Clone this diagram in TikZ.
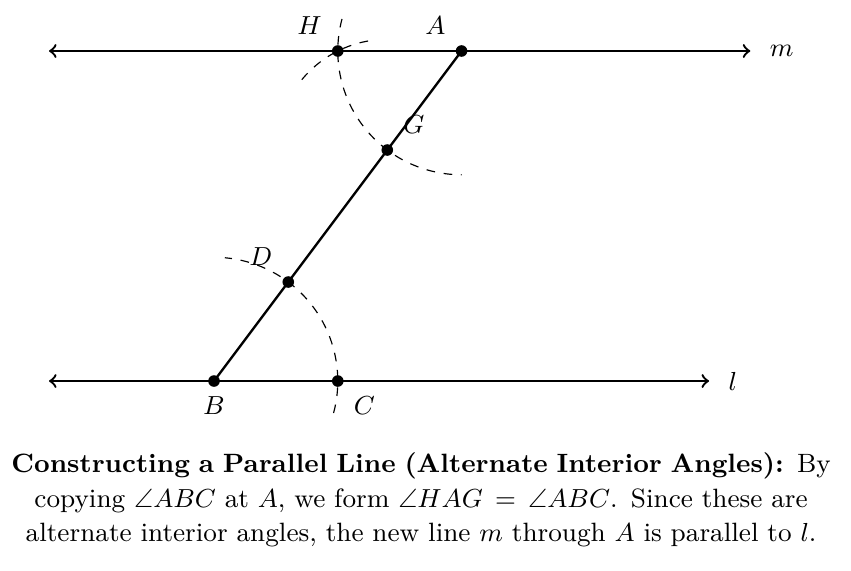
\documentclass[tikz,border=0pt]{standalone}
\usepackage{amssymb}
\begin{document}
\begin{tikzpicture}[
  font=\fontsize{9.14pt}{11.8pt}\selectfont,
  geoline/.style={thick,<->},
  seg/.style={thick},
  arcline/.style={dashed,thin},
  pt/.style={circle,fill,inner sep=0pt,minimum size=4pt},
  lbl/.style={inner sep=3.33pt}
]
\useasboundingbox (-2.594,-2.291) rectangle (7.72,4.618);
\coordinate (Bp) at (0,0);
\coordinate (Cp) at (1.5,0);
\coordinate (Ap) at (3,4);
\coordinate (Hp) at (1.5,4);
\coordinate (Gp) at (2.1,2.8);
\coordinate (Dp) at (0.9,1.2);
\coordinate (lL) at (-2,0);
\coordinate (lR) at (6,0);
\coordinate (mL) at (-2,4);
\coordinate (mR) at (6.5,4);
% lines
\draw[geoline] (lL) -- (lR) node[right=3pt] (llab) {$l$};
\draw[geoline] (mL) -- (mR) node[right=3pt] (mlab) {$m$};
\draw[seg] (Bp) -- (Ap);
% arcs
\draw[arcline] ([shift={(-15:1.5)}]Bp) arc[start angle=-15,end angle=85,radius=1.5];
\draw[arcline] ([shift={(165:1.5)}]Ap) arc[start angle=165,end angle=270,radius=1.5];
\draw[arcline] ([shift={(100:1.3416)}]Gp) arc[start angle=100,end angle=143,radius=1.3416];
% points
\node[pt] (A) at (Ap) {};
\node[pt] (B) at (Bp) {};
\node[pt] (C) at (Cp) {};
\node[pt] (D) at (Dp) {};
\node[pt] (G) at (Gp) {};
\node[pt] (H) at (Hp) {};
\node[lbl,above left=2pt] (Alab) at (Ap) {$A$};
\node[lbl,above left=2pt] (Hlab) at (Hp) {$H$};
\node[lbl,above right=2pt] (Glab) at (Gp) {$G$};
\node[lbl,above left=2pt] (Dlab) at (Dp) {$D$};
\node[lbl,below=2pt] (Blab) at (Bp) {$B$};
\node[lbl,below right=2pt] (Clab) at (Cp) {$C$};
% caption
\node[text width=10.2cm,align=center] (cap) at (2.51,-1.44)
{\textbf{Constructing a Parallel Line (Alternate Interior Angles):} By copying $\angle ABC$ at $A$, we form $\angle HAG = \angle ABC$. Since these are alternate interior angles, the new line $m$ through $A$ is parallel to $l$.};
\end{tikzpicture}
\end{document}
